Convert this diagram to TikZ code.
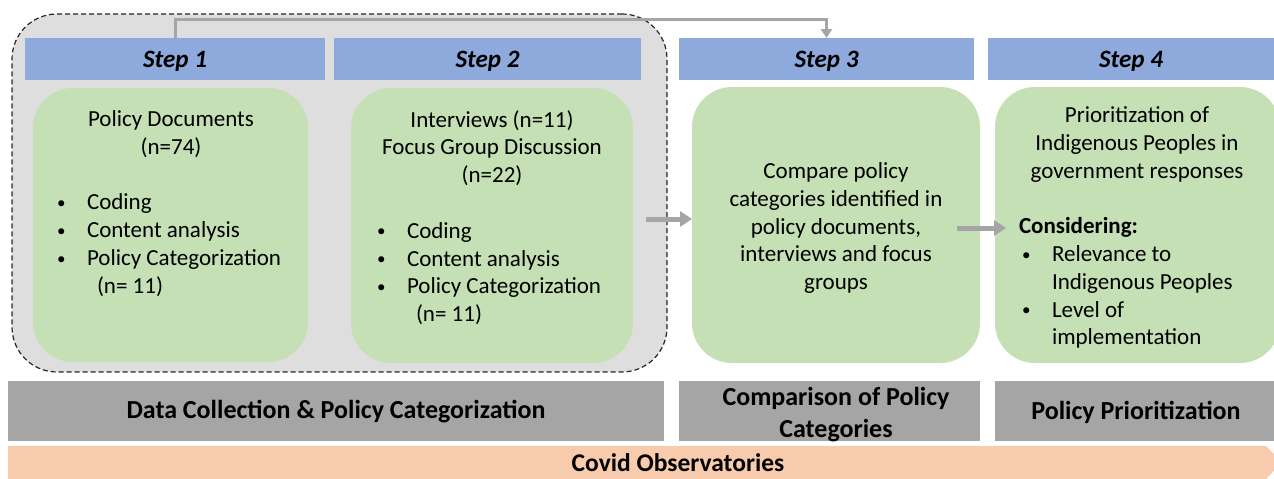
\documentclass[tikz,border=0pt]{standalone}
\usepackage{fontspec}
\setmainfont{Carlito}
\usetikzlibrary{arrows.meta}
\definecolor{stepblue}{HTML}{8EA9DB}
\definecolor{boxgreen}{HTML}{C5E0B4}
\definecolor{bggray}{HTML}{DEDEDE}
\definecolor{bargray}{HTML}{A5A5A5}
\definecolor{peach}{HTML}{F8CBAD}
\definecolor{arrgray}{HTML}{A5A5A5}
\newcommand{\bl}[1]{\makebox[30pt][l]{\raisebox{1.5pt}{\fontsize{17}{17}\selectfont\textbullet}}\mbox{#1}\par}
\begin{document}
\begin{tikzpicture}[x=1pt,y=-1pt,
  stepbar/.style={fill=stepblue, inner sep=0, outer sep=0, minimum height=42pt,
    text height=21pt, text depth=4pt,
    font=\fontsize{25}{30}\selectfont\bfseries\itshape},
  greenbox/.style={fill=boxgreen, rounded corners=40pt, inner sep=0, outer sep=0},
  graybar/.style={fill=bargray, inner sep=0, outer sep=0, minimum height=60pt},
  barlabel/.style={align=center, inner sep=0, font=\fontsize{26}{31.7}\selectfont\bfseries},
  txt/.style={anchor=base west, inner sep=0, outer sep=0},
  ctxt/.style={anchor=base, inner sep=0, outer sep=0},
  flowarrow/.style={draw=arrgray, line width=5pt, -{Triangle[length=12pt,width=15pt]}},
  looparrow/.style={draw=arrgray, line width=3pt, -{Triangle[length=9pt,width=11pt]}},
]
\path[use as bounding box, clip] (0,0) rectangle (1274,479);

% dashed group
\node[draw=black!85, fill=bggray, dashed, line width=1.2pt, dash pattern=on 5pt off 3pt,
  rounded corners=45pt, minimum width=655pt, minimum height=358pt, inner sep=0]
  (grp) at (339.5,193) {};

% step bars
\node[stepbar, minimum width=300pt] (s1) at (175,59) {Step 1};
\node[stepbar, minimum width=307pt] (s2) at (487.5,59) {Step 2};
\node[stepbar, minimum width=295pt] (s3) at (826.5,59) {Step 3};
\node[stepbar, minimum width=286pt] (s4) at (1131,59) {Step 4};

% loop arrow
\coordinate (loopy) at (500,19);
\draw[looparrow] (s1.north) |- (loopy) -| (s3.north);

% green boxes
\node[greenbox, minimum width=275pt, minimum height=274pt] (b1) at (170.5,225) {};
\node[greenbox, minimum width=282pt, minimum height=275pt] (b2) at (492,225.5) {};
\node[greenbox, minimum width=288pt, minimum height=276pt] (b3) at (836,225) {};
\node[greenbox, minimum width=285pt, minimum height=276pt] (b4) at (1137.5,225) {};

% box texts
\node[txt] (t1) at (57,126.5) {\begin{minipage}[t]{228pt}\fontsize{23}{27.8}\selectfont
{\centering Policy Documents\\(n=74)\par}
\vspace{27.8pt}
\raggedright
\bl{Coding}
\bl{Content analysis}
\bl{Policy Categorization}
\hspace*{40pt}(n= 11)\par
\end{minipage}};

\node[txt] (t2) at (377,127) {\begin{minipage}[t]{230pt}\fontsize{23}{27.8}\selectfont
{\centering Interviews (n=11)\\Focus Group Discussion\\(n=22)\par}
\vspace{27.8pt}
\raggedright
\bl{Coding}
\bl{Content analysis}
\bl{Policy Categorization}
\hspace*{39pt}(n= 11)\par
\end{minipage}};

\node[ctxt] (t3) at (836,178.5) {\begin{minipage}[t]{280pt}\fontsize{23}{27.8}\selectfont
\centering Compare policy\\categories identified in\\policy documents,\\interviews and focus\\groups\par
\end{minipage}};

\node[txt] (t4) at (1019,122.5) {\begin{minipage}[t]{236pt}\fontsize{23}{27.8}\selectfont
{\centering Prioritization of\\Indigenous Peoples in\\government responses\par}
\vspace{27.8pt}
\raggedright
\textbf{Considering:}\par
\hspace*{3pt}\bl{Relevance to}
\hspace*{33pt}Indigenous Peoples\par
\hspace*{3pt}\bl{Level of}
\hspace*{33pt}implementation\par
\end{minipage}};

% flow arrows
\coordinate (a1s) at (646,219);
\draw[flowarrow] (a1s) -- (b3.west |- a1s);
\coordinate (a2s) at (957,228);
\coordinate (a2e) at (1006,228);
\draw[flowarrow] (a2s) -- (a2e);

% bottom gray bars
\node[graybar, minimum width=656pt] (g1) at (336,411) {};
\node[graybar, minimum width=301pt] (g2) at (829.5,411) {};
\node[graybar, minimum width=279pt] (g3) at (1134.5,411) {};
\node[barlabel] (l1) at (336,412) {Data Collection \& Policy Categorization};
\node[barlabel] (l2) at (836,414.5) {Comparison of Policy\\Categories};
\node[barlabel] (l3) at (1136,412) {Policy Prioritization};

% covid observatories band
\fill[peach] (8,446) -- (1266,446) -- (1282,462.5) -- (1266,479) -- (8,479) -- cycle;
\node[barlabel, font=\fontsize{25.5}{30}\selectfont\bfseries] (obs) at (678,463) {Covid Observatories};
\end{tikzpicture}
\end{document}
